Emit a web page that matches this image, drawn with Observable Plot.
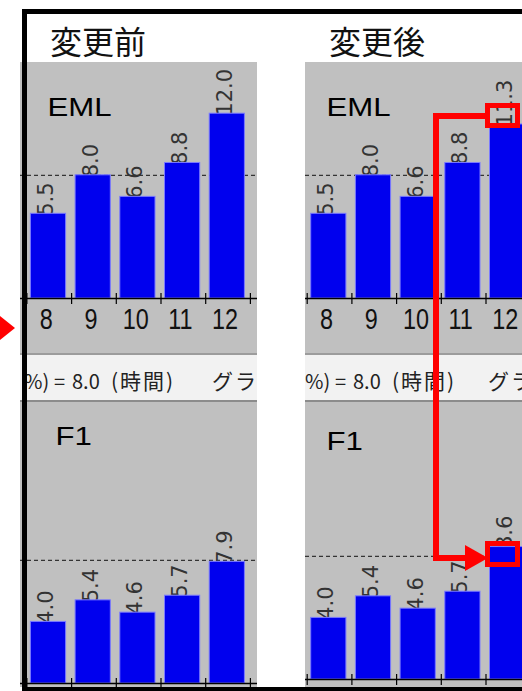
<!DOCTYPE html>
<html><head><meta charset="utf-8">
<script src="https://cdn.jsdelivr.net/npm/d3@7"></script>
<script src="https://cdn.jsdelivr.net/npm/@observablehq/plot@0.6"></script>
<style>
html,body{margin:0;padding:0;background:#fff;}
#root{position:relative;width:522px;height:691px;overflow:hidden;background:#fff;font-family:"Liberation Sans",Arial,sans-serif;}
.abs{position:absolute;}
.title{position:absolute;font-family:"Noto Sans CJK JP",sans-serif;font-size:32px;line-height:32px;color:#111;white-space:nowrap;}
.panel{position:absolute;overflow:hidden;background:#c0c0c0;}
.chart{position:absolute;left:0;}
.strip{position:absolute;left:0;width:100%;height:45px;background:#f2f2f2;border-top:2px solid #9c9c9c;border-bottom:2px solid #8c8c8c;overflow:hidden;color:#222;}
.strip span{position:absolute;top:0;line-height:45px;padding-top:3px;white-space:pre;font-family:"Noto Sans CJK JP",sans-serif;font-size:20px;}
.black{position:absolute;background:#000;}
</style>
</head><body>
<div id="root">
  <div class="title" id="t0" style="left:50px;top:24px"></div>
  <div class="title" id="t1" style="left:329px;top:24px"></div>
  <div class="panel" id="p0" style="left:20px;top:62px;width:237px;height:625px"></div>
  <div class="panel" id="p1" style="left:305px;top:62px;width:217px;height:625px"></div>
  <div class="black" style="left:22px;top:9px;width:5px;height:682px"></div>
  <div class="black" style="left:22px;top:9px;width:500px;height:5px"></div>
  <div class="black" style="left:22px;top:687px;width:500px;height:4px"></div>
  <svg class="abs" width="522" height="691" style="left:0;top:0;pointer-events:none">
    <polygon points="0,316 0,340 15,328" fill="#ff0000"/>
    <rect x="433" y="113" width="6" height="448" fill="#ff0000"/>
    <rect x="433" y="113" width="54" height="6" fill="#ff0000"/>
    <rect x="487.5" y="105.5" width="30" height="20" fill="none" stroke="#ff0000" stroke-width="5"/>
    <rect x="433" y="555" width="34" height="6" fill="#ff0000"/>
    <polygon points="465,545 465,571 488,558" fill="#ff0000"/>
    <rect x="487.5" y="543.5" width="30" height="21" fill="none" stroke="#ff0000" stroke-width="5"/>
  </svg>
</div>
<script>
// ---- data ----
const hours = [8, 9, 10, 11, 12];
const emlBefore = [5.5, 8.0, 6.6, 8.8, 12.0];
const emlAfter  = [5.5, 8.0, 6.6, 8.8, 11.3];
const f1Before  = [4.0, 5.4, 4.6, 5.7, 7.9];
const f1After   = [4.0, 5.4, 4.6, 5.7, 8.6];
const targetHours = 8.0;
const panelTitles = ["変更前", "変更後"];
const chartNames = ["EML", "F1"];
const stripParts = ["%)", "=", "8.0", "(時間)", "グラフ"];

const STEP = 44.7, PX_PER_UNIT = 15.4;

function stretch(svg, selector, sx) {
  svg.querySelectorAll(selector).forEach(t => {
    const tr = t.getAttribute("transform");
    if (tr) t.setAttribute("transform", tr + " scale(" + sx + ",1)");
    else {
      const x = t.getAttribute("x") || 0, y = t.getAttribute("y") || 0;
      t.removeAttribute("x"); t.removeAttribute("y");
      t.setAttribute("transform", "translate(" + x + "," + y + ") scale(" + sx + ",1)");
    }
  });
}

function barChart(o) {
  const data = hours.map((h, i) => ({hour: h, value: o.values[i]}));
  const edges = hours.map(h => h - 0.5).concat([hours[hours.length - 1] + 0.5]);
  const svg = Plot.plot({
    width: o.width, height: o.height,
    marginTop: 0, marginRight: 0, marginLeft: 0, marginBottom: o.height - o.baseline,
    x: {type: "linear", domain: [o.x0, o.x0 + o.width / STEP], label: null},
    y: {domain: [0, o.baseline / PX_PER_UNIT], axis: null, label: null},
    style: {background: "transparent", overflow: "hidden", color: "#111"},
    marks: [
      Plot.text([o.name], {frameAnchor: "top-left", text: d => d, dx: o.nameX, dy: o.nameY,
        fontSize: 26, fontFamily: "Liberation Sans, Arial, sans-serif", textAnchor: "start",
        lineAnchor: "top", fill: "#000", className: "chart-name"}),
      Plot.ruleY([targetHours], {stroke: "#111", strokeWidth: 1, strokeDasharray: "4,3"}),
      Plot.text(data, {x: "hour", y: "value", text: d => d.value.toFixed(1), rotate: -90,
        textAnchor: "start", lineAnchor: "middle", dx: -3, dy: 2, fontSize: 21,
        fontFamily: "DejaVu Sans, sans-serif", fill: "#333"}),
      Plot.rectY(data, {x1: d => d.hour - 0.5, x2: d => d.hour + 0.5, y: "value",
        insetLeft: 4, insetRight: 5.5, fill: "#0000ee", stroke: "#7a7aff", strokeWidth: 1}),
      Plot.ruleY([0], {stroke: "#000", strokeWidth: 1.5}),
      Plot.ruleX(edges, {x: d => d, y1: -6 / PX_PER_UNIT, y2: 5 / PX_PER_UNIT, stroke: "#000", strokeWidth: 1.2}),
      Plot.axisX({ticks: hours, tickSize: 0, tickPadding: 9, tickFormat: d => String(d), label: null,
        fontSize: 30, fontFamily: "Liberation Sans, Arial, sans-serif", dx: -3, className: "xlab"})
    ]
  });
  stretch(svg, ".xlab text", 0.78);
  stretch(svg, ".chart-name text", 1.2);
  return svg;
}

function buildPanel(el, cfg) {
  const eml = barChart({values: cfg.eml, name: chartNames[0], width: cfg.width, height: 291,
    baseline: 236, x0: cfg.x0, nameX: cfg.emlName[0], nameY: cfg.emlName[1]});
  eml.classList.add("chart"); eml.style.top = "0px";
  el.appendChild(eml);

  const strip = document.createElement("div");
  strip.className = "strip"; strip.style.top = "291px";
  const offs = [0, 30, 48, 87, 183];
  stripParts.forEach((t, i) => {
    const s = document.createElement("span");
    s.textContent = t;
    s.style.left = (offs[i] + (i === 4 ? cfg.stripShift2 : cfg.stripShift)) + "px";
    if (i >= 3) { s.style.fontSize = "21px"; s.style.letterSpacing = "2px"; }
    strip.appendChild(s);
  });
  el.appendChild(strip);

  const f1 = barChart({values: cfg.f1, name: chartNames[1], width: cfg.width, height: 285,
    baseline: cfg.f1Base, x0: cfg.x0, nameX: cfg.f1Name[0], nameY: cfg.f1Name[1]});
  f1.classList.add("chart"); f1.style.top = "340px";
  el.appendChild(f1);
}

document.getElementById("t0").textContent = panelTitles[0];
document.getElementById("t1").textContent = panelTitles[1];

buildPanel(document.getElementById("p0"), {
  eml: emlBefore, f1: f1Before, width: 237, x0: 7.5 - 6.4 / STEP, f1Base: 281,
  emlName: [27, 35], f1Name: [35, 24], stripShift: 4, stripShift2: 9
});
buildPanel(document.getElementById("p1"), {
  eml: emlAfter, f1: f1After, width: 217, x0: 7.5 - 1.7 / STEP, f1Base: 277,
  emlName: [21, 35], f1Name: [21, 29], stripShift: 0, stripShift2: 0
});
</script>
</body></html>
